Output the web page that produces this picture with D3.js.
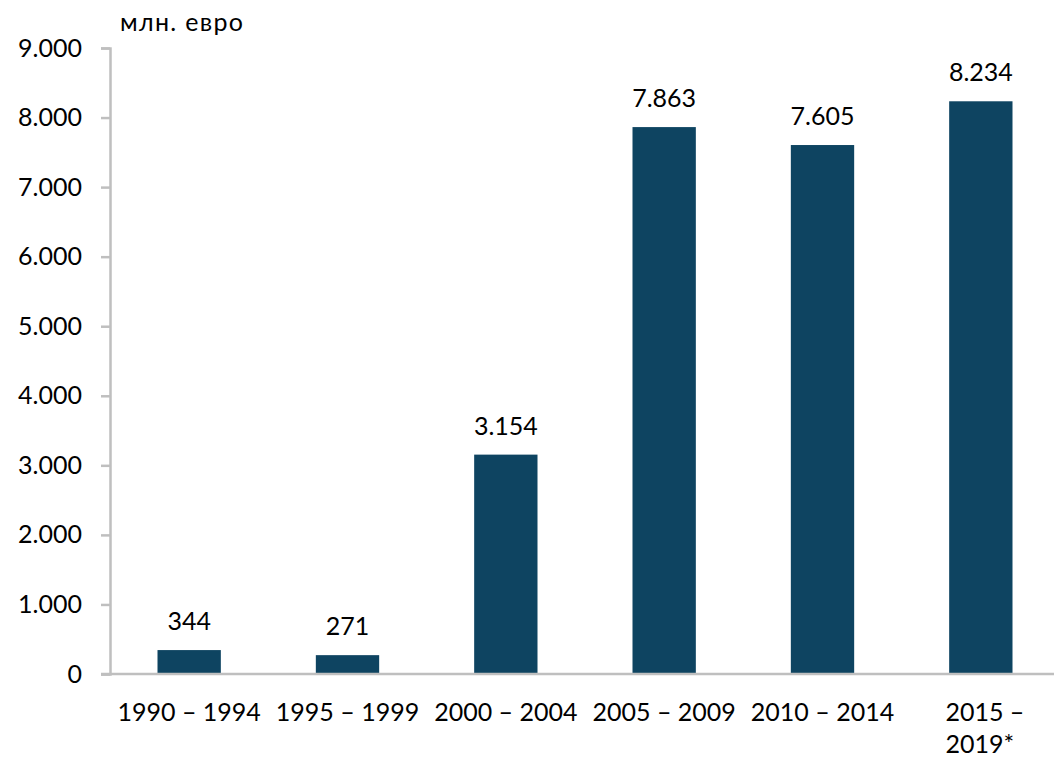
<!DOCTYPE html>
<html>
<head>
<meta charset="utf-8">
<script src="https://cdn.jsdelivr.net/npm/d3@7"></script>
<style>
  body { margin: 0; background: #fff; }
  text { font-family: Lato, "Open Sans", sans-serif; fill: #000; }
</style>
</head>
<body>
<svg></svg>
<script>
const periods = ["1990 – 1994", "1995 – 1999", "2000 – 2004", "2005 – 2009", "2010 – 2014", "2015 – 2019*"]
const values = [344, 271, 3154, 7863, 7605, 8234]
const yTicks = [0, 1000, 2000, 3000, 4000, 5000, 6000, 7000, 8000, 9000]
const unitLabel = "млн. евро"

const width = 1054, height = 757
const svg = d3.select("svg").attr("width", width).attr("height", height)

const x = d3.scaleBand()
  .domain(periods)
  .range([110, 1060])
  .paddingInner(0.6)
  .paddingOuter(0.3)

const y = d3.scaleLinear()
  .domain([0, 9000])
  .range([674, 48])

const fmt = d => d3.format(",")(d).replace(/,/g, ".")

// y axis
const yAxis = svg.append("g")
  .attr("transform", "translate(110,0)")
  .call(d3.axisLeft(y).tickValues(yTicks).tickSize(9).tickPadding(8).tickFormat(fmt))
yAxis.select(".domain").attr("stroke", "#bfbfbf").attr("stroke-width", 2.5)
yAxis.selectAll(".tick line").attr("stroke", "#bfbfbf").attr("stroke-width", 2.5)
yAxis.selectAll(".tick text")
  .style("font-size", "25px")
  .attr("fill", "#000")
  .attr("x", -28)

// bars
svg.selectAll("rect.bar")
  .data(values)
  .enter()
  .append("rect")
  .attr("class", "bar")
  .attr("x", (d, i) => x(periods[i]))
  .attr("y", d => y(d))
  .attr("width", x.bandwidth())
  .attr("height", d => y(0) - y(d))
  .attr("fill", "#0e4461")

// x axis line
svg.append("line")
  .attr("x1", 101).attr("x2", width)
  .attr("y1", y(0)).attr("y2", y(0))
  .attr("stroke", "#bfbfbf").attr("stroke-width", 2.5)

// value labels
svg.selectAll("text.value")
  .data(values)
  .enter()
  .append("text")
  .attr("class", "value")
  .attr("x", (d, i) => x(periods[i]) + x.bandwidth() / 2)
  .attr("y", d => y(d) - 20)
  .attr("text-anchor", "middle")
  .style("font-size", "25px")
  .text(d => fmt(d))

// category labels
const cats = svg.selectAll("text.cat")
  .data(periods)
  .enter()
  .append("text")
  .attr("class", "cat")
  .attr("y", 721)
  .style("font-size", "25px")

cats.each(function(d) {
  const t = d3.select(this)
  const cx = x(d) + x.bandwidth() / 2
  if (d.endsWith("*")) {
    const parts = ["2015 –", "2019*"]
    t.attr("x", cx).attr("text-anchor", "middle")
    t.append("tspan").attr("x", cx).text(parts[0])
    const w = this.getComputedTextLength()
    const left = cx - w / 2 + 4
    t.attr("text-anchor", "start")
    t.select("tspan").attr("x", left)
    t.append("tspan").attr("x", left).attr("dy", 32).text(parts[1])
  } else {
    t.attr("x", cx).attr("text-anchor", "middle").text(d)
  }
})

svg.append("text")
  .attr("x", 120)
  .attr("y", 31)
  .style("font-size", "25px")
  .attr("textLength", 123)
  .text(unitLabel)
</script>
</body>
</html>
